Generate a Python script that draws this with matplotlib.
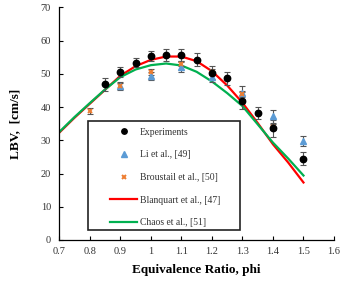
import matplotlib
matplotlib.use("Agg")
import matplotlib.pyplot as plt
from matplotlib.patches import Rectangle

plt.rcParams['font.family'] = ['Liberation Serif', 'DejaVu Serif']

# Experiments
exp_phi = [0.85, 0.9, 0.95, 1.0, 1.05, 1.1, 1.15, 1.2, 1.25, 1.3, 1.35, 1.4, 1.5]
exp_lbv = [46.8, 50.6, 53.4, 55.5, 55.8, 55.8, 54.2, 50.3, 48.6, 41.9, 38.2, 33.6, 24.5]
exp_err = [2.0, 1.5, 1.3, 1.5, 1.8, 1.8, 2.0, 2.0, 2.0, 2.5, 1.7, 2.5, 2.0]

# Li et al. [49]
li_phi = [0.9, 1.0, 1.1, 1.2, 1.3, 1.4, 1.5]
li_lbv = [46.3, 49.4, 52.0, 48.9, 44.3, 37.2, 29.8]
li_err = [1.2, 1.2, 1.5, 1.3, 2.0, 2.0, 1.6]

# Broustail et al. [50]
br_phi = [0.8, 0.9, 1.0, 1.1, 1.2, 1.3, 1.4]
br_lbv = [38.7, 46.4, 50.6, 53.1, 50.5, 44.0, 34.0]
br_err = [0.9, 0.9, 0.9, 0.9, 0.9, 0.9, 0.9]

# Blanquart et al. [47] and Chaos et al. [51] model curves
mod_phi = [0.7, 0.75, 0.8, 0.85, 0.9, 0.95, 1.0, 1.05, 1.1, 1.15, 1.2, 1.25,
           1.3, 1.35, 1.4, 1.45, 1.5]
blanquart = [32.3, 36.8, 41.0, 45.2, 49.4, 52.3, 54.2, 55.2, 55.2, 53.8, 50.8,
             46.5, 41.3, 35.2, 28.8, 23.3, 17.3]
chaos = [32.5, 37.0, 41.2, 45.3, 49.0, 51.3, 52.6, 53.1, 52.5, 50.6, 47.7,
         44.2, 40.3, 34.8, 29.3, 24.5, 19.4]

xticks = [0.7, 0.8, 0.9, 1.0, 1.1, 1.2, 1.3, 1.4, 1.5, 1.6]
xticklabels = ['0.7', '0.8', '0.9', '1', '1.1', '1.2', '1.3', '1.4', '1.5', '1.6']
yticks = [0, 10, 20, 30, 40, 50, 60, 70]

fig = plt.figure(figsize=(3.54, 2.89), dpi=100)
ax = fig.add_axes([0.1675, 0.1696, 0.776, 0.805])

l_red, = ax.plot(mod_phi, blanquart, color='#FF0000', lw=1.6, zorder=2,
                 label='Blanquart et al., [47]')
l_grn, = ax.plot(mod_phi, chaos, color='#00B050', lw=1.6, zorder=2,
                 label='Chaos et al., [51]')

ekw = dict(ecolor='#555555', elinewidth=0.8, capsize=2.2, capthick=0.8, ls='none')
ax.errorbar(br_phi, br_lbv, yerr=br_err, zorder=3, **ekw)
ax.errorbar(li_phi, li_lbv, yerr=li_err, zorder=3, **ekw)
ax.errorbar(exp_phi, exp_lbv, yerr=exp_err, zorder=3, **ekw)

h_li, = ax.plot(li_phi, li_lbv, ls='none', marker='^', ms=4.5, color='#5B9BD5',
                zorder=4, label='Li et al., [49]')
h_br, = ax.plot(br_phi, br_lbv, ls='none', marker='x', ms=3.5, mew=1.4,
                color='#ED7D31', zorder=5, label='Broustail et al., [50]')
h_exp, = ax.plot(exp_phi, exp_lbv, ls='none', marker='o', ms=4.6, color='black',
                 zorder=6, label='Experiments')

ax.set_xlim(0.7, 1.6)
ax.set_ylim(0, 70)
ax.set_xticks(xticks)
ax.set_xticklabels(xticklabels)
ax.set_yticks(yticks)
ax.tick_params(direction='in', length=3, width=0.8, labelsize=7.5,
               colors='black', labelcolor='#333333')
ax.tick_params(axis='x', pad=5)
ax.tick_params(axis='y', pad=6)
for s in ['top', 'right']:
    ax.spines[s].set_visible(False)
for s in ['left', 'bottom']:
    ax.spines[s].set_linewidth(0.9)

ax.set_xlabel('Equivalence Ratio, phi', fontsize=9.5, fontweight='bold', labelpad=6)
ax.set_ylabel('LBV,  [cm/s]', fontsize=9.5, fontweight='bold', labelpad=14)

ax.add_patch(Rectangle((0.1045, 0.043), 0.5535, 0.4665, transform=ax.transAxes,
                       fill=True, facecolor='white', edgecolor='#222222', lw=1.2,
                       zorder=7, clip_on=False))
leg = ax.legend(handles=[h_exp, h_li, h_br, l_red, l_grn], loc='upper left',
                bbox_to_anchor=(0.186, 0.482), frameon=False, fontsize=6.9,
                handlelength=2.8, handletextpad=0.25, labelspacing=1.42,
                borderpad=0, borderaxespad=0, numpoints=1, markerscale=0.85)
leg.set_zorder(8)
for t in leg.get_texts():
    t.set_color('#333333')

fig.savefig('out.png', dpi=100)
